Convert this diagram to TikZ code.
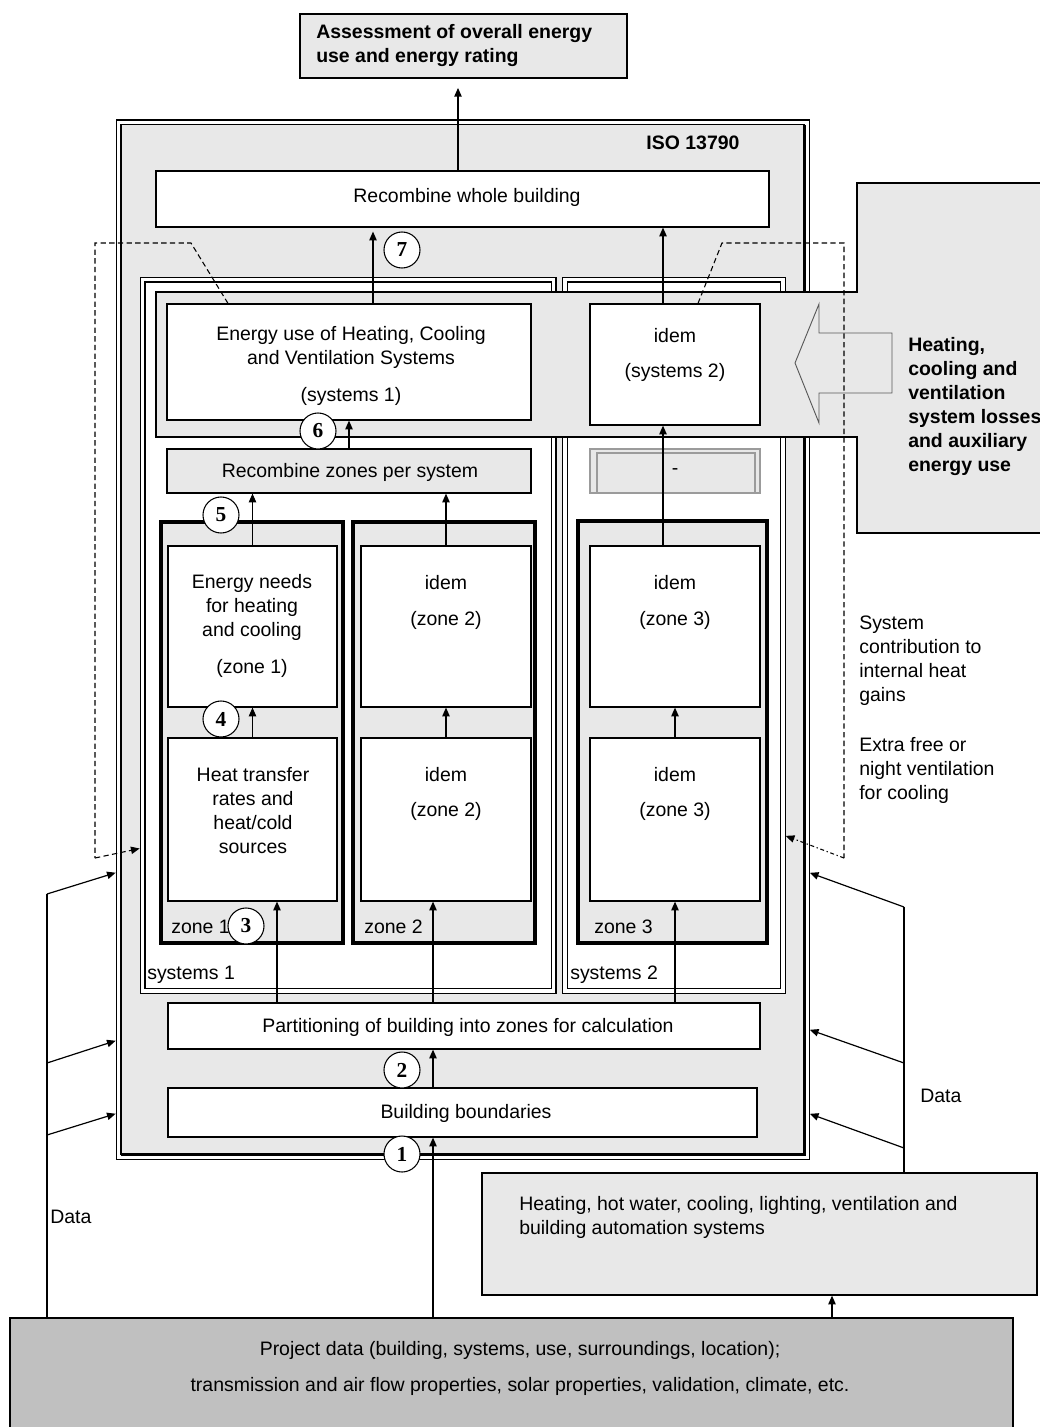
\documentclass[tikz,border=0pt]{standalone}
\usepackage{fontspec}
\setmainfont{Liberation Sans}
\newfontfamily\circfont{Liberation Serif}
\usetikzlibrary{positioning,fit,arrows.meta}

\definecolor{lightgrey}{RGB}{232,232,232}
\definecolor{darkgrey}{RGB}{192,192,192}
\definecolor{frameline}{RGB}{155,155,155}

\tikzset{
  every node/.style={font=\fontsize{14.6}{18}\selectfont, inner sep=0pt},
  box/.style={draw, line width=0.9pt, inner sep=0pt},
  frame/.style={draw, line width=0.8pt, double=white, double distance=2.9pt, inner sep=0pt},
  zonebox/.style={draw, line width=2.6pt, fill=lightgrey, inner sep=0pt},
  arr/.style={line width=0.9pt, -{Triangle[length=6.5pt,width=5.5pt]}},
  dsh/.style={line width=0.8pt, dash pattern=on 4pt off 2.5pt},
  num/.style={circle, draw, line width=0.8pt, fill=white, minimum size=27pt, inner sep=0pt, font=\circfont\bfseries\fontsize{16}{16}\selectfont},
  bold/.style={font=\bfseries\fontsize{14.6}{18}\selectfont},
}

\begin{document}
\begin{tikzpicture}[x=0.75pt,y=0.75pt,yscale=-1,xscale=1]
\useasboundingbox (0,0) rectangle (1039,1427);

%Shape: Rectangle (assessment)
\node[box, fill=lightgrey, fit={(300,14) (627,78)}] (assess) {};
%Shape: Double frame (ISO 13790)
\node[frame, fill=lightgrey, fit={(118.5,122.5) (807,1157)}] (iso) {};
\draw[line width=1.6pt] (804.5,125) -- (804.5,1154.5) -- (121,1154.5);
\node[box, fill=white, fit={(156,171) (769,227)}] (recomb) {};
%Shape: Double frames (systems)
\node[frame, fill=white, fit={(142.5,279.5) (553.5,991)}] (sysA) {};
\node[frame, fill=white, fit={(565,279.5) (783,991)}] (sysB) {};

%Shape: Zones
\node[zonebox, fit={(161,522) (343,943)}] (zoneA) {};
\node[zonebox, fit={(353,522) (535,943)}] (zoneB) {};
\node[zonebox, fit={(578,521) (767,943)}] (zoneC) {};
\node[box, fill=white, fit={(168,546) (337,707)}] (needA) {};
\node[box, fill=white, fit={(168,738) (337,901)}] (transA) {};
\node[box, fill=white, fit={(361,546) (531,707)}] (needB) {};
\node[box, fill=white, fit={(361,738) (531,901)}] (transB) {};
\node[box, fill=white, fit={(590,546) (760,707)}] (needC) {};
\node[box, fill=white, fit={(590,738) (760,901)}] (transC) {};

%Shape: Recombine zones
\node[box, fill=lightgrey, fit={(167,449) (531,493)}] (reczones) {};
\node[box, draw=frameline, fill=lightgrey, fit={(590,449) (760,493)}] (dashbox) {};
\draw[frameline, line width=0.8pt] (597,493) -- (597,453) -- (755,453) -- (755,493);

%Shape: Systems band
\draw[line width=0.9pt, fill=lightgrey] (156,292) -- (857,292) -- (857,183) -- (1045,183) -- (1045,533) -- (857,533) -- (857,437) -- (156,437) -- cycle;
%Shape: Hollow arrow
\draw[line width=0.7pt, draw=black!65, fill=lightgrey] (795,363) -- (819,304) -- (819,333) -- (892,333) -- (892,393) -- (819,393) -- (819,423) -- cycle;
\node[box, fill=white, fit={(167,304) (531,420)}] (useA) {};
\node[box, fill=white, fit={(590,304) (760,425)}] (useB) {};

%Shape: Partitioning and boundaries
\node[box, fill=white, fit={(168,1003) (760,1049)}] (part) {};
\node[box, fill=white, fit={(168,1088) (757,1137)}] (bound) {};
%Shape: Data boxes
\node[box, fill=lightgrey, fit={(482,1173) (1037,1295)}] (hvac) {};
\node[box, fill=darkgrey, fit={(10,1318) (1013,1445)}] (proj) {};

% Dashed feedback lines
\coordinate (fbL1) at (191,243);
\coordinate (fbL2) at (95,243);
\coordinate (fbL3) at (95,858);
\draw[dsh] (useA.north -| 228,0) -- (fbL1) -- (fbL2) -- (fbL3);
\draw[dsh, -{Triangle[length=6.5pt,width=5.5pt]}, shorten >=1.8pt] (fbL3) -- (sysA.west |- 0,848);
\coordinate (fbR1) at (722,243);
\coordinate (fbR2) at (844,243);
\coordinate (fbR3) at (844,858);
\draw[dsh] (useB.north -| 698,0) -- (fbR1) -- (fbR2) -- (fbR3);
\draw[line width=0.8pt, dash pattern=on 3pt off 2pt on 1pt off 2pt, -{Triangle[length=6.5pt,width=5.5pt]}, shorten >=1.8pt] (fbR3) -- (sysB.east |- 0,835);

% Arrows
\draw[arr, shorten >=7pt] (recomb.north -| 458,0) -- (assess.south -| 458,0);
\draw[arr, shorten >=3pt] (useA.north -| 373,0) -- (recomb.south -| 373,0);
\draw[arr] (useB.north -| 663,0) -- (recomb.south -| 663,0);
\draw[arr] (reczones.north -| 349,0) -- (useA.south -| 349,0);
\draw[arr] (needC.north -| 663,0) -- (useB.south -| 663,0);
\draw[arr] (needA.north) -- (needA.north |- reczones.south);
\draw[arr] (needB.north) -- (needB.north |- reczones.south);
\draw[arr] (transA.north) -- (needA.south);
\draw[arr] (transB.north) -- (needB.south);
\draw[arr] (transC.north) -- (needC.south);
\draw[arr] (part.north -| 277,0) -- (transA.south -| 277,0);
\draw[arr] (part.north -| 433,0) -- (transB.south -| 433,0);
\draw[arr] (part.north -| 675,0) -- (transC.south -| 675,0);
\draw[arr] (bound.north -| 433,0) -- (part.south -| 433,0);
\draw[arr] (proj.north -| 433,0) -- (bound.south -| 433,0);
\draw[arr] (proj.north -| 832,0) -- (hvac.south -| 832,0);

% Data lines
\coordinate (dataL1) at (47,894);
\coordinate (dataL2) at (47,1063);
\coordinate (dataL3) at (47,1135);
\draw[line width=0.9pt] (proj.north -| dataL1) -- (dataL1);
\draw[arr, shorten >=1.8pt] (dataL1) -- (iso.west |- 0,872);
\draw[arr, shorten >=1.8pt] (dataL2) -- (iso.west |- 0,1040);
\draw[arr, shorten >=1.8pt] (dataL3) -- (iso.west |- 0,1113);
\coordinate (dataR1) at (904,907);
\coordinate (dataR2) at (904,1063);
\coordinate (dataR3) at (904,1148);
\draw[line width=0.9pt] (hvac.north -| dataR1) -- (dataR1);
\draw[arr, shorten >=1.8pt] (dataR1) -- (iso.east |- 0,872);
\draw[arr, shorten >=1.8pt] (dataR2) -- (iso.east |- 0,1029);
\draw[arr, shorten >=1.8pt] (dataR3) -- (iso.east |- 0,1113);

% Step numbers
\node[num] (step7) at (402,250) {7};
\node[num] (step6) at (318,431) {6};
\node[num] (step5) at (221,515) {5};
\node[num] (step4) at (221,719) {4};
\node[num] (step3) at (246,926) {3};
\node[num] (step2) at (402,1070) {2};
\node[num] (step1) at (402,1154) {1};

% Text Node
\node[bold, align=left, anchor=west] (tassess) at (316,46) {Assessment of overall energy\\use and energy rating};
\node[bold] (tiso) at (693,143) {ISO 13790};
\node (trecomb) at (467,197) {Recombine whole building};
\node[align=center] (tuseA) at (351,347) {Energy use of Heating, Cooling\\and Ventilation Systems};
\node (tuseAs) at (351,396) {(systems 1)};
\node (tuseB) at (675,336) {idem};
\node (tuseBs) at (675,372) {(systems 2)};
\node (treczones) at (350,472) {Recombine zones per system};
\node (tdash) at (675,472) {-};
\node[align=center] (tneedA) at (252,607) {Energy needs\\for heating\\and cooling};
\node (tneedAz) at (252,668) {(zone 1)};
\node[align=center] (ttransA) at (253,811) {Heat transfer\\rates and\\heat/cold\\sources};
\node (tneedB) at (446,583) {idem};
\node (tneedBz) at (446,620) {(zone 2)};
\node (ttransB) at (446,775) {idem};
\node (ttransBz) at (446,811) {(zone 2)};
\node (tneedC) at (675,583) {idem};
\node (tneedCz) at (675,620) {(zone 3)};
\node (ttransC) at (675,775) {idem};
\node (ttransCz) at (675,811) {(zone 3)};
\node[anchor=west] (tzoneA) at (171,927) {zone 1};
\node[anchor=west] (tzoneB) at (364,927) {zone 2};
\node[anchor=west] (tzoneC) at (594,927) {zone 3};
\node[anchor=west] (tsysA) at (147,975) {systems 1};
\node[anchor=west] (tsysB) at (570,975) {systems 2};
\node (tpart) at (468,1027) {Partitioning of building into zones for calculation};
\node (tbound) at (466,1113) {Building boundaries};
\node[bold, align=left, anchor=west] (tlosses) at (908,407) {Heating,\\cooling and\\ventilation\\system losses\\and auxiliary\\energy use};
\node[align=left, anchor=west] (tgains) at (859,661) {System\\contribution to\\internal heat\\gains};
\node[align=left, anchor=west] (tvent) at (859,770) {Extra free or\\night ventilation\\for cooling};
\node[anchor=west] (tdataL) at (50,1217) {Data};
\node[anchor=west] (tdataR) at (920,1096) {Data};
\node[align=left, anchor=west] (thvac) at (519,1217) {Heating, hot water, cooling, lighting, ventilation and\\building automation systems};
\node[align=center] (tproj) at (520,1368) {Project data (building, systems, use, surroundings, location);\\[9pt]transmission and air flow properties, solar properties, validation, climate, etc.};
\end{tikzpicture}
\end{document}
